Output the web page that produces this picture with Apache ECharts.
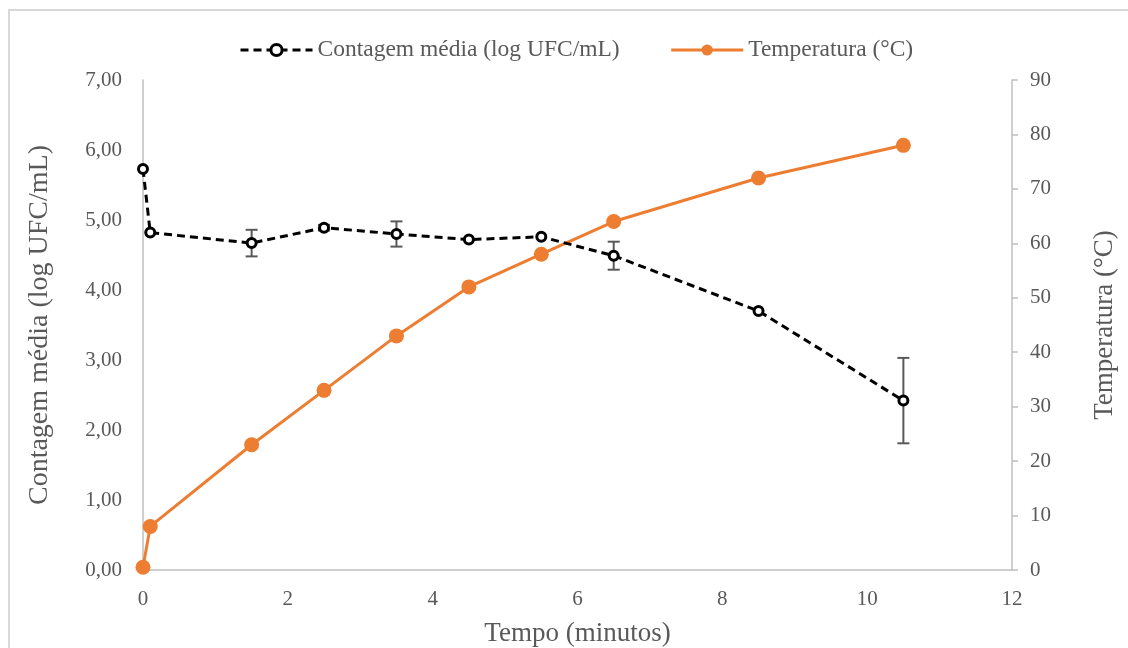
<!DOCTYPE html>
<html><head><meta charset="utf-8">
<script src="https://cdn.jsdelivr.net/npm/echarts@6/dist/echarts.min.js"></script>
<style>html,body{margin:0;padding:0;background:#fff}#c{width:1128px;height:648px}</style>
</head><body><div id="c"></div>
<script>
const tempo = [0, 0.1, 1.5, 2.5, 3.5, 4.5, 5.5, 6.5, 8.5, 10.5];
const contagem = [5.73, 4.82, 4.67, 4.89, 4.80, 4.72, 4.76, 4.49, 3.70, 2.42];
const erroContagem = [0, 0, 0.19, 0.04, 0.18, 0, 0, 0.20, 0, 0.61];
const temperatura = [0.5, 8, 23, 33, 43, 52, 58, 64, 72, 78];
const xTicks = [0, 2, 4, 6, 8, 10, 12];
const nomeContagem = 'Contagem média (log UFC/mL)';
const nomeTemp = 'Temperatura (°C)';

const font = '"Liberation Serif", "Times New Roman", serif';
const txt = '#595959';
const axisCol = '#BFBFBF';
const orange = '#ED7D31';
const chart = echarts.init(document.getElementById('c'), null, {renderer: 'canvas'});

const countData = tempo.map((t, i) => [t, contagem[i]]);
const tempData = tempo.map((t, i) => [t, temperatura[i]]);
const errData = tempo.map((t, i) => [t, contagem[i] - erroContagem[i], contagem[i] + erroContagem[i]]).filter((d, i) => erroContagem[i] > 0);

chart.setOption({
  animation: false,
  textStyle: {fontFamily: font},
  graphic: [{type: 'rect', shape: {x: 9, y: 10, width: 1200, height: 700}, style: {fill: 'none', stroke: '#D9D9D9', lineWidth: 2}, silent: true, z: -10}],
  legend: {
    left: 234, top: 33,
    itemWidth: 72, itemHeight: 14, itemGap: 50,
    textStyle: {fontFamily: font, fontSize: 23.5, color: txt},
    data: [
      {name: nomeContagem, itemStyle: {color: '#fff', borderColor: '#000', borderWidth: 3},
       lineStyle: {color: '#000', width: 3, type: [8, 5]}},
      {name: nomeTemp, itemStyle: {color: orange},
       lineStyle: {color: orange, width: 3}}
    ]
  },
  grid: {left: 143, right: 116, top: 80, bottom: 78, containLabel: false, outerBoundsMode: 'none'},
  xAxis: {
    type: 'value', min: 0, max: 12, interval: 2,
    name: 'Tempo (minutos)', nameLocation: 'middle', nameGap: 50,
    nameTextStyle: {fontFamily: font, fontSize: 27, color: txt},
    axisLine: {show: true, lineStyle: {color: axisCol, width: 1.5}},
    axisTick: {show: false},
    splitLine: {show: false},
    axisLabel: {fontFamily: font, fontSize: 21, color: txt, margin: 19,
      formatter: v => xTicks.includes(v) ? String(v) : ''}
  },
  yAxis: [{
    type: 'value', min: 0, max: 7, interval: 1, position: 'left',
    name: nomeContagem, nameLocation: 'middle', nameGap: 89,
    nameTextStyle: {fontFamily: font, fontSize: 28, color: txt},
    axisLine: {show: true, lineStyle: {color: axisCol, width: 1.5}},
    axisTick: {show: false},
    splitLine: {show: false},
    axisLabel: {fontFamily: font, fontSize: 21, color: txt, margin: 21,
      formatter: v => v.toFixed(2).replace('.', ',')}
  }, {
    type: 'value', min: 0, max: 90, interval: 10, position: 'right',
    name: nomeTemp, nameLocation: 'middle', nameGap: 79, nameRotate: 90,
    nameTextStyle: {fontFamily: font, fontSize: 27, color: txt},
    axisLine: {show: true, lineStyle: {color: axisCol, width: 1.5}},
    axisTick: {show: true, length: 6, lineStyle: {color: axisCol, width: 1.5}},
    splitLine: {show: false},
    axisLabel: {fontFamily: font, fontSize: 21, color: txt, margin: 18}
  }],
  series: [{
    name: nomeTemp, type: 'line', yAxisIndex: 1, data: tempData,
    symbol: 'circle', symbolSize: 15,
    lineStyle: {color: orange, width: 3},
    itemStyle: {color: orange},
    z: 2
  }, {
    name: 'erro', type: 'custom', yAxisIndex: 0, data: errData,
    renderItem: (params, api) => {
      const x = api.value(0);
      const lo = api.coord([x, api.value(1)]);
      const hi = api.coord([x, api.value(2)]);
      const w = 6;
      const st = {stroke: '#595959', lineWidth: 2};
      return {type: 'group', children: [
        {type: 'line', shape: {x1: lo[0], y1: lo[1], x2: hi[0], y2: hi[1]}, style: st},
        {type: 'line', shape: {x1: lo[0] - w, y1: lo[1], x2: lo[0] + w, y2: lo[1]}, style: st},
        {type: 'line', shape: {x1: hi[0] - w, y1: hi[1], x2: hi[0] + w, y2: hi[1]}, style: st}
      ]};
    },
    z: 3
  }, {
    name: nomeContagem, type: 'line', yAxisIndex: 0, data: countData,
    symbol: 'circle', symbolSize: 9,
    lineStyle: {color: '#000', width: 3, type: [8, 5]},
    itemStyle: {color: '#fff', borderColor: '#000', borderWidth: 3},
    z: 4
  }]
});
</script></body></html>
